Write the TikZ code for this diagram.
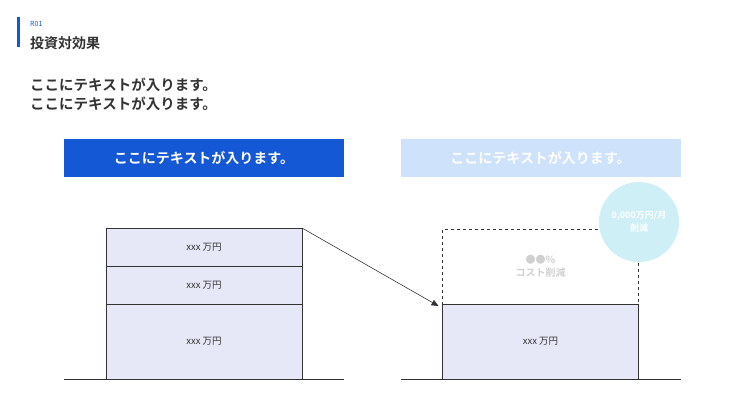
\documentclass[tikz,border=0pt]{standalone}
\usepackage{fontspec}
\setmainfont{Noto Sans CJK JP}[BoldFont={Noto Sans CJK JP Bold}]
\usetikzlibrary{positioning, arrows.meta}
\definecolor{bleu}{HTML}{1558D6}
\definecolor{bleuclair}{HTML}{CFE2FB}
\definecolor{lavande}{HTML}{E6E8F7}
\definecolor{cyanclair}{HTML}{CDEFF5}
\definecolor{texte}{HTML}{333333}
\definecolor{grisclair}{HTML}{D0D0D0}

\begin{document}
\begin{tikzpicture}[x=1pt, y=-1pt]
        % Styles
        \tikzstyle{entete} = [rectangle, minimum width=280pt, minimum height=38pt, inner sep=0pt, outer sep=0pt, text=white, font=\bfseries\fontsize{14}{16}\selectfont]
        \tikzstyle{bloc} = [rectangle, draw=texte, line width=0.6pt, fill=lavande, minimum width=196pt, inner sep=0pt, outer sep=0pt, text=texte, font=\fontsize{9.5}{11}\selectfont]
        \tikzstyle{sol} = [draw=texte, line width=0.6pt]
        \tikzstyle{arrow} = [draw=texte, line width=0.6pt, -{Triangle[length=7pt, width=6pt]}]

        \useasboundingbox (0,0) rectangle (745,420);

        % Titre
        \fill[bleu] (17,17) rectangle (20,47);
        \node (code) [anchor=west, inner sep=0pt, text=bleu, font=\fontsize{7}{8}\selectfont] at (30,24) {R01};
        \node (titre) [anchor=west, inner sep=0pt, text=texte, font=\bfseries\fontsize{14}{16}\selectfont] at (30,43) {投資対効果};
        \node (intro) [anchor=north west, inner sep=0pt, align=left, text=texte, font=\bfseries\fontsize{14.5}{19}\selectfont] at (30,78) {ここにテキストが入ります。\\ここにテキストが入ります。};

        % En-tetes
        \node (avant) [entete, fill=bleu] at (204,158) {ここにテキストが入ります。};
        \node (apres) [entete, fill=bleuclair] at (540.5,158) {ここにテキストが入ります。};

        % Colonne de gauche
        \node (coutA) [bloc, minimum height=38pt] at (204,247) {xxx 万円};
        \node (coutB) [bloc, minimum height=38pt, below=0pt of coutA] {xxx 万円};
        \node (coutC) [bloc, minimum height=75pt, below=0pt of coutB] {xxx 万円};

        % Colonne de droite
        \node (reste) [bloc, minimum height=75pt] at (540.5,341.5) {xxx 万円};
        \node (coupe) [rectangle, draw=texte, dashed, line width=0.6pt, minimum width=196pt, minimum height=75pt, inner sep=0pt, outer sep=0pt, above=0pt of reste, align=center, text=grisclair, font=\bfseries\fontsize{10}{13}\selectfont] {●●\%\\コスト削減};
        \node (gain) [circle, fill=cyanclair, minimum size=80pt, inner sep=0pt, align=center, text=white, font=\bfseries\fontsize{9}{13}\selectfont] at (639,222) {0,000万円/月\\削減};

        % Lignes de base
        \draw [sol] (avant.west |- coutC.south) -- (avant.east |- coutC.south);
        \draw [sol] (apres.west |- reste.south) -- (apres.east |- reste.south);

        % Fleche
        \draw [arrow] (coutA.north east) -- ([xshift=-4pt, yshift=-2pt]coupe.south west);
    \end{tikzpicture}
\end{document}
